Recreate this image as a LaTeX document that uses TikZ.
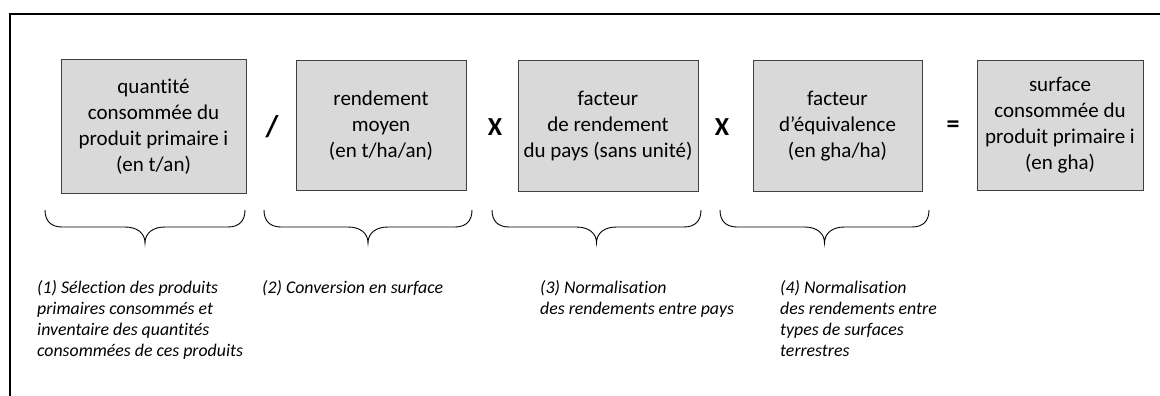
\documentclass[tikz,border=0pt]{standalone}
\usepackage{fontspec}
\setmainfont{Carlito}[Ligatures=NoCommon]
\usepackage{xcolor}
\usepackage{tikz}
\definecolor{boxgray}{HTML}{D9D9D9}
\tikzset{
 facteur/.style={draw=black!75,fill=boxgray,line width=1pt,align=center,inner sep=0pt,font=\fontsize{21}{26}\selectfont},
 oper/.style={inner sep=0pt,font=\fontsize{26}{28}\selectfont\bfseries},
 etape/.style={anchor=north west,align=left,inner sep=0pt,font=\fontsize{17.8}{21}\selectfont\itshape}
}

\begin{document}
\begin{tikzpicture}[x=1pt,y=-1pt]
\useasboundingbox(0,0)rectangle(1160,396);
\draw[line width=2pt](10,396)--(10,14)--(1160,14);

\node[facteur,minimum width=185pt,minimum height=133pt](qte) at(153.5,126.5){quantité\\consommée du\\produit primaire i\\(en t/an)};
\node[facteur,minimum width=170pt,minimum height=129pt](rdt) at(381,125.5){rendement\\moyen\\(en t/ha/an)};
\node[facteur,minimum width=180pt,minimum height=130pt](fr) at(608,126){facteur\\de rendement\\du pays (sans unité)};
\node[facteur,minimum width=169pt,minimum height=130pt](feq) at(837.5,126){facteur\\d’équivalence\\(en gha/ha)};
\node[facteur,minimum width=166pt,minimum height=129pt](surf) at(1060,125.5){surface\\consommée du\\produit primaire i\\(en gha)};

\node[oper,font=\fontsize{30}{30}\selectfont\bfseries](div) at(272,127){/};
\node[oper](mul1) at(495,127){X};
\node[oper](mul2) at(722,127){X};
\node[oper](egal) at(953,127){=};

% accolades
\foreach\a/\b in{45/245,264/472,492/701,720/929}{
\draw[line width=0.9pt](\a,210) .. controls (\a,221) and ({\a+6},227) .. ({\a+17},227)
 -- ({(\a+\b)/2-20},227) .. controls ({(\a+\b)/2-8},227) and ({(\a+\b)/2},233) .. ({(\a+\b)/2},243)
 .. controls ({(\a+\b)/2},233) and ({(\a+\b)/2+8},227) .. ({(\a+\b)/2+20},227)
 -- ({\b-17},227) .. controls ({\b-6},227) and (\b,221) .. (\b,210);
}

\node[etape](e1) at(37,280){(1) Sélection des produits\\primaires consommés et\\inventaire des quantités\\consommées de ces produits};
\node[etape](e2) at(262,280){(2) Conversion en surface};
\node[etape](e3) at(540,280){(3) Normalisation\\des rendements entre pays};
\node[etape](e4) at(780,280){(4) Normalisation\\des rendements entre\\types de surfaces\\terrestres};
\end{tikzpicture}
\end{document}
